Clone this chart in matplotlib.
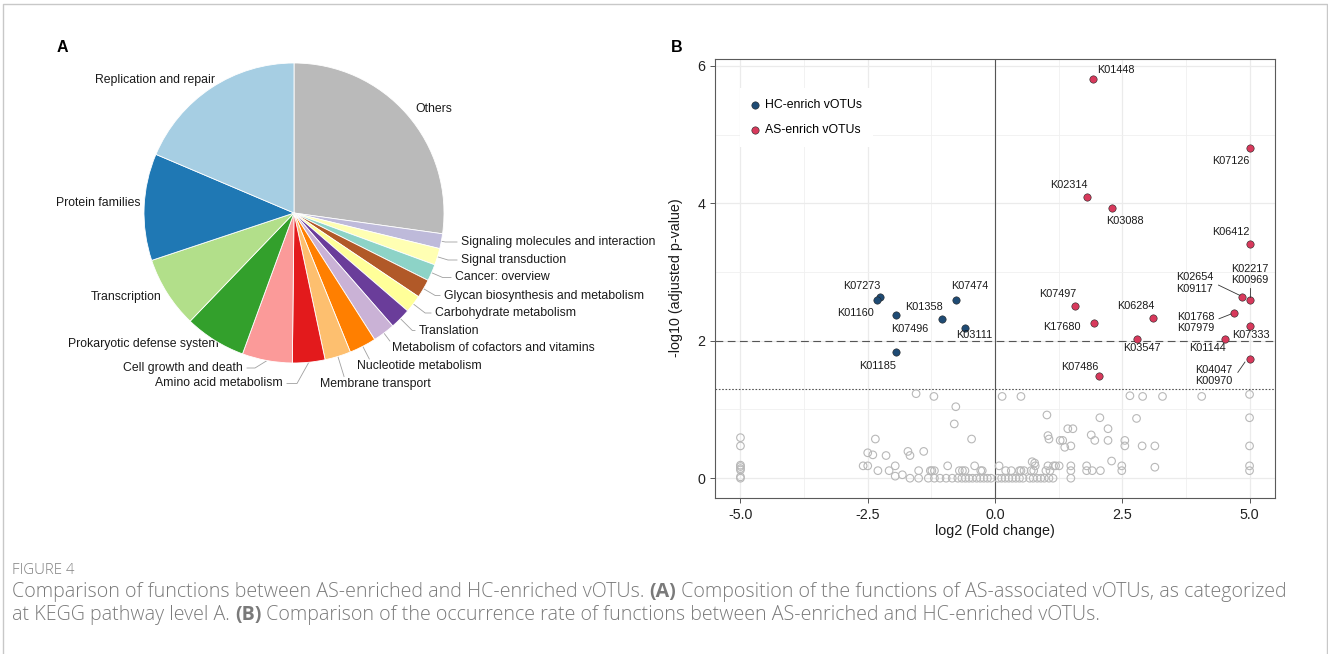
import matplotlib
matplotlib.use('Agg')
import matplotlib.pyplot as plt
import numpy as np

plt.rcParams['font.family'] = ['Liberation Sans', 'DejaVu Sans']

# ---------------- data ----------------
pie_labels = ['Others', 'Signaling molecules and interaction', 'Signal transduction',
              'Cancer: overview', 'Glycan biosynthesis and metabolism', 'Carbohydrate metabolism',
              'Translation', 'Metabolism of cofactors and vitamins', 'Nucleotide metabolism',
              'Membrane transport', 'Amino acid metabolism', 'Cell growth and death',
              'Prokaryotic defense system', 'Transcription', 'Protein families',
              'Replication and repair']
pie_values = [27.2, 1.6, 1.8, 1.8, 2.0, 1.9, 2.25, 2.4, 2.9, 2.8, 3.5, 5.4, 6.6, 7.7, 11.5, 18.6]
pie_colors = ['#bababa', '#bebada', '#ffffb3', '#8dd3c7', '#b15928', '#ffff99', '#6a3d9a',
              '#cab2d6', '#ff7f00', '#fdbf6f', '#e31a1c', '#fb9a99', '#33a02c', '#b2df8a',
              '#1f78b4', '#a6cee3']

hc_names = ['K07273', 'K01160', 'K07496', 'K01358', 'K07474', 'K03111', 'K01185']
hc_lfc = [-2.25, -2.31, -1.95, -1.05, -0.77, -0.58, -1.95]
hc_padj = [2.63, 2.60, 2.37, 2.32, 2.60, 2.19, 1.83]

as_names = ['K01448', 'K07126', 'K02314', 'K03088', 'K06412', 'K02654\nK09117',
            'K02217\nK00969', 'K07497', 'K06284', 'K17680', 'K01768\nK07979', 'K07333',
            'K03547', 'K01144', 'K04047\nK00970', 'K07486']
as_lfc = [1.92, 5.0, 1.81, 2.29, 5.0, 4.85, 5.0, 1.58, 3.10, 1.94, 4.69, 5.0, 2.78, 4.52, 5.0, 2.04]
as_padj = [5.81, 4.81, 4.09, 3.93, 3.41, 2.63, 2.59, 2.50, 2.33, 2.26, 2.40, 2.22, 2.03, 2.03, 1.74, 1.48]

ns_lfc = [-5, -5, -5, -5, -5, -5, -5, -5,
          -1.55, -1.20, 0.14, 0.51, 2.65, 2.90, 3.29, 4.06, 5.0,
          -0.77, -0.80, -0.46, -2.35, -2.50, -2.40, -2.14, -1.71, -1.67, -1.40,
          -2.59, -2.50, -2.30, -2.08, -1.96, -1.96, -1.82, -1.67, -1.50, -1.50,
          -1.27, -1.24, -1.19, -1.31, -1.19, -1.08, -0.96, -0.84, -0.93,
          -0.70, -0.64, -0.59,
          -0.73, -0.65, -0.58, -0.51, -0.44, -0.36, -0.29, -0.22, -0.15, -0.08,
          -0.40, -0.28, -0.25, 0.08, 0.21, 0.32,
          0.06, 0.13, 0.20, 0.27, 0.34, 0.41, 0.48, 0.55,
          0.48, 0.51, 0.57, 0.73, 0.79, 0.71, 0.76,
          0.68, 0.75, 0.83, 0.90, 0.97, 1.06, 1.14,
          1.02, 1.04, 1.06, 1.04, 1.00, 1.08, 1.15, 1.19, 1.26, 1.28, 1.37, 1.49, 1.43, 1.53,
          1.49, 1.49, 1.49, 1.33,
          1.80, 1.80, 1.91, 2.07, 1.89, 1.96, 2.06, 2.22, 2.22, 2.29, 2.55, 2.55, 2.49, 2.49,
          2.78, 2.89, 3.14, 3.14, 0.78,
          5.0, 5.0, 5.0, 5.0]
ns_padj = [0.59, 0.47, 0.19, 0.17, 0.14, 0.12, 0.02, 0.0,
           1.23, 1.19, 1.19, 1.19, 1.20, 1.19, 1.19, 1.19, 1.22,
           1.04, 0.79, 0.57, 0.57, 0.37, 0.34, 0.33, 0.39, 0.33, 0.39,
           0.18, 0.18, 0.11, 0.11, 0.18, 0.03, 0.05, 0.0, 0.0, 0.11,
           0.11, 0.11, 0.11, 0.0, 0.0, 0.0, 0.0, 0.0, 0.18,
           0.11, 0.11, 0.11,
           0.0, 0.0, 0.0, 0.0, 0.0, 0.0, 0.0, 0.0, 0.0, 0.0,
           0.18, 0.11, 0.11, 0.18, 0.11, 0.11,
           0.0, 0.0, 0.0, 0.0, 0.0, 0.0, 0.0, 0.0,
           0.11, 0.11, 0.11, 0.24, 0.18, 0.11, 0.11,
           0.0, 0.0, 0.0, 0.0, 0.0, 0.0, 0.0,
           0.92, 0.62, 0.57, 0.18, 0.11, 0.11, 0.18, 0.18, 0.18, 0.55, 0.45, 0.47, 0.72, 0.72,
           0.18, 0.11, 0.0, 0.55,
           0.18, 0.11, 0.11, 0.11, 0.63, 0.55, 0.88, 0.72, 0.55, 0.25, 0.55, 0.47, 0.18, 0.11,
           0.87, 0.47, 0.47, 0.16, 0.22,
           0.88, 0.47, 0.18, 0.11]

x_ticks = [-5.0, -2.5, 0.0, 2.5, 5.0]
y_ticks = [0, 2, 4, 6]

caption_title = 'FIGURE 4'
caption_line1 = [('Comparison of functions between AS-enriched and HC-enriched vOTUs. ', False),
                 ('(A)', True),
                 (' Composition of the functions of AS-associated vOTUs, as categorized', False)]
caption_line2 = [('at KEGG pathway level A. ', False), ('(B)', True),
                 (' Comparison of the occurrence rate of functions between AS-enriched and HC-enriched vOTUs.', False)]

# ---------------- figure ----------------
W, H = 1328, 654
fig = plt.figure(figsize=(W / 100, H / 100), dpi=100)
bg = fig.add_axes([0, 0, 1, 1])
bg.set_xlim(0, W)
bg.set_ylim(H, 0)
bg.axis('off')

# outer frame
bg.plot([3, 3, 1326.5, 1326.5], [660, 4, 4, 660], color='#c8c8c8', lw=1.0)

# ---------------- panel A: pie ----------------
cx, cy, R = 294, 213, 150
pax = fig.add_axes([(cx - R) / W, (H - cy - R) / H, 2 * R / W, 2 * R / H])
pax.pie(pie_values, colors=pie_colors, startangle=90, counterclock=False, radius=1,
        wedgeprops=dict(edgecolor='white', linewidth=0.6))
pax.set_xlim(-1, 1)
pax.set_ylim(-1, 1)
pax.set_aspect('auto')
pax.axis('off')

# label layout (pixel positions)
lab_pos = {
    'Others': (434, 109, 'center'),
    'Signaling molecules and interaction': (461, 242, 'left'),
    'Signal transduction': (461, 260, 'left'),
    'Cancer: overview': (455, 277.5, 'left'),
    'Glycan biosynthesis and metabolism': (444, 295.5, 'left'),
    'Carbohydrate metabolism': (435, 313, 'left'),
    'Translation': (419, 330.5, 'left'),
    'Metabolism of cofactors and vitamins': (392, 348, 'left'),
    'Nucleotide metabolism': (357, 366, 'left'),
    'Membrane transport': (320, 383.5, 'left'),
    'Amino acid metabolism': (283, 383.5, 'right'),
    'Cell growth and death': (243, 368, 'right'),
    'Prokaryotic defense system': (219, 344, 'right'),
    'Transcription': (162, 297, 'right'),
    'Protein families': (141, 203, 'right'),
    'Replication and repair': (215, 79.5, 'right'),
}
horiz_leader = {'Signaling molecules and interaction', 'Signal transduction', 'Cancer: overview',
                'Glycan biosynthesis and metabolism', 'Carbohydrate metabolism', 'Translation'}
down_leader = {'Metabolism of cofactors and vitamins', 'Nucleotide metabolism', 'Membrane transport'}
left_leader = {'Amino acid metabolism': (297, 383.5, 287), 'Cell growth and death': (255, 368, 247)}

total = sum(pie_values)
cum = 0.0
for lab, v in zip(pie_labels, pie_values):
    mid = np.deg2rad((cum + v / 2) / total * 360.0)
    cum += v
    ex, ey = cx + R * np.sin(mid), cy - R * np.cos(mid)
    dx, dy = np.sin(mid), -np.cos(mid)
    lx, ly, ha = lab_pos[lab]
    if lab in horiz_leader:
        t = max((ly - ey) / dy, 4.0)
        kx, ky = ex + t * dx, ey + t * dy
        bg.plot([ex, kx, lx - 4], [ey, ly, ly], color='#a0a0a0', lw=0.6)
    elif lab in down_leader:
        t = max((ly - 7 - ey) / dy, 4.0)
        bg.plot([ex, ex + t * dx], [ey, ey + t * dy], color='#a0a0a0', lw=0.6)
    elif lab in left_leader:
        kx, ky, endx = left_leader[lab]
        bg.plot([ex, kx, endx], [ey, ky, ky], color='#a0a0a0', lw=0.6)
    bg.text(lx, ly, lab, ha=ha, va='center', fontsize=8.8, color='#1a1a1a')

bg.text(62, 47, 'A', ha='center', va='center', fontsize=11.5, fontweight='bold', color='black')
bg.text(677, 47, 'B', ha='center', va='center', fontsize=11.5, fontweight='bold', color='black')

# ---------------- panel B: volcano ----------------
ax = fig.add_axes([715 / W, (H - 498) / H, 560 / W, 439 / H])
ax.set_xlim(-5.5, 5.5)
ax.set_ylim(-0.288, 6.10)
ax.set_xticks(x_ticks)
ax.set_xticklabels(['%.1f' % v for v in x_ticks])
ax.set_yticks(y_ticks)
ax.set_yticklabels([str(v) for v in y_ticks])
ax.set_xticks([-3.75, -1.25, 1.25, 3.75], minor=True)
ax.set_yticks([1, 3, 5], minor=True)
ax.grid(which='major', color='#ebebeb', lw=0.9)
ax.grid(which='minor', color='#f0f0f0', lw=0.6)
ax.set_axisbelow(True)
ax.tick_params(which='major', direction='out', length=3.5, width=0.7, color='#555555',
               labelsize=10.3, labelcolor='#222222')
ax.tick_params(which='minor', length=0)
for s in ax.spines.values():
    s.set_color('#5a5a5a')
    s.set_linewidth(0.8)

ax.axvline(0, color='#555555', lw=0.8, zorder=1)
ax.axhline(2, color='#555555', lw=0.8, dashes=(7, 4), zorder=1)
ax.axhline(-np.log10(0.05), color='#555555', lw=0.8, dashes=(1.5, 1.5), zorder=1)

ax.scatter(ns_lfc, ns_padj, s=30, facecolors='none', edgecolors='#b8b8b8', linewidths=0.8, zorder=2)
h1 = ax.scatter(hc_lfc, hc_padj, s=28, c='#1f4b74', edgecolors='#222222', linewidths=0.4,
                zorder=3, label='HC-enrich vOTUs')
h2 = ax.scatter(as_lfc, as_padj, s=28, c='#d8395c', edgecolors='#222222', linewidths=0.4,
                zorder=3, label='AS-enrich vOTUs')

# label layout (data coordinates)
hc_lab_xy = [(-2.61, 2.79), (-2.75, 2.40), (-1.67, 2.17), (-1.40, 2.49), (-0.49, 2.80),
             (-0.41, 2.08), (-2.30, 1.64)]
as_lab_xy = [(2.38, 5.94), (4.64, 4.62), (1.46, 4.26), (2.56, 3.74), (4.64, 3.58), (3.92, 2.84),
             (5.0, 2.96), (1.24, 2.68), (2.76, 2.50), (1.32, 2.20), (3.94, 2.265), (5.02, 2.08),
             (2.88, 1.89), (4.18, 1.89), (4.29, 1.50), (1.67, 1.62)]
for name, (lx, ly) in zip(hc_names, hc_lab_xy):
    ax.text(lx, ly, name, ha='center', va='center', fontsize=7.8, color='#1a1a1a', zorder=4)
for name, (lx, ly) in zip(as_names, as_lab_xy):
    ax.text(lx, ly, name, ha='center', va='center', fontsize=7.8, color='#1a1a1a',
            linespacing=1.15, zorder=4)
segs = [((4.39, 2.81), (4.81, 2.66)), ((5.0, 2.77), (5.0, 2.64)),
        ((4.40, 2.32), (4.64, 2.39)), ((4.77, 1.54), (4.91, 1.69))]
for (a, b) in segs:
    ax.plot([a[0], b[0]], [a[1], b[1]], color='#333333', lw=0.6, zorder=3)

leg = ax.legend(handles=[h1, h2], loc='upper left',
                bbox_to_anchor=((740 - 715) / 560, (498 - 88) / 439), borderaxespad=0,
                fontsize=8.8, frameon=True, facecolor='white', edgecolor='none', framealpha=1,
                fancybox=False, borderpad=0.9, labelspacing=1.1, handlelength=0.6,
                handletextpad=0.55, scatterpoints=1)
leg.set_zorder(5)

bg.text(995, 531, 'log2 (Fold change)', ha='center', va='center', fontsize=10.3, color='#1a1a1a')
bg.text(676, 278, '-log10 (adjusted p-value)', ha='center', va='center', rotation=90,
        fontsize=10.3, color='#1a1a1a')

# ---------------- caption ----------------
renderer = fig.canvas.get_renderer()
cap_font = ['Open Sans', 'DejaVu Sans']


def run_width(s, bold, fs):
    fw = 'bold' if bold else 'light'
    p1 = bg.text(0, 0, s + '|', fontweight=fw, fontsize=fs, family=cap_font)
    p2 = bg.text(0, 0, '|', fontweight=fw, fontsize=fs, family=cap_font)
    w = p1.get_window_extent(renderer).width - p2.get_window_extent(renderer).width
    p1.remove()
    p2.remove()
    return w


def draw_runs(x, y, runs, fs, color):
    for s, bold in runs:
        bg.text(x, y, s, ha='left', va='center', fontsize=fs, family=cap_font, color=color,
                fontweight='bold' if bold else 'light')
        x += run_width(s, bold, fs)


w12 = sum(run_width(s, b, 12) for s, b in caption_line1)
cap_fs = 12 * (1281 - 12) / w12
bg.text(12, 571, caption_title, ha='left', va='center', fontsize=10.8, family=cap_font,
        color='#808080', fontweight='light')
draw_runs(12, 592, caption_line1, cap_fs, '#7a7a7a')
draw_runs(12, 615, caption_line2, cap_fs, '#7a7a7a')

fig.savefig('out.png', dpi=100)
